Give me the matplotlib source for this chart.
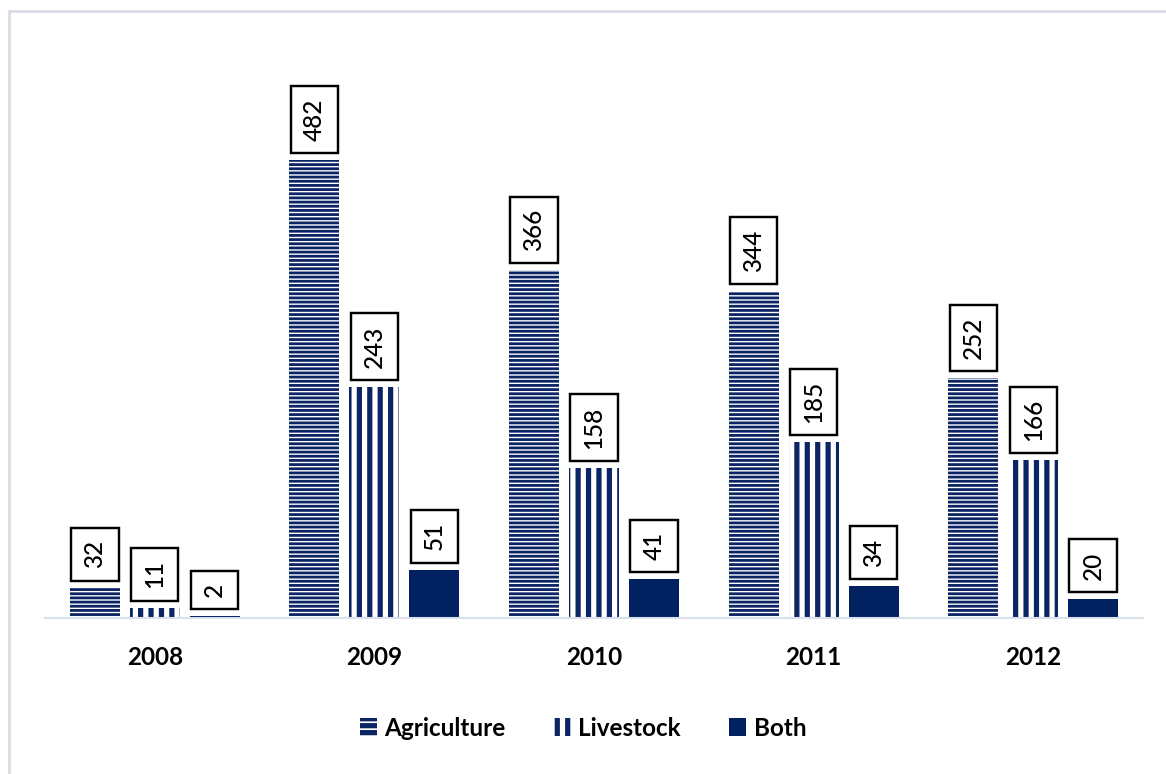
import numpy as np
import matplotlib.pyplot as plt
from matplotlib.patches import Rectangle, Patch

years = ['2008', '2009', '2010', '2011', '2012']
agriculture = [32, 482, 366, 344, 252]
livestock = [11, 243, 158, 185, 166]
both = [2, 51, 41, 34, 20]

navy = '#0B2463'
plt.rcParams['font.family'] = ['Lato', 'DejaVu Sans']

fig = plt.figure(figsize=(1166 / 125, 774 / 125), dpi=125)
ax = fig.add_axes([45 / 1166, (774 - 618) / 774, (1143 - 45) / 1166, (618 - 40) / 774])

# outer frame of the chart area
fig.add_artist(Rectangle((9 / 1166, -0.05), 1.2, 1.05 - 11 / 774, transform=fig.transFigure,
                         fill=False, edgecolor='#DADDE6', lw=1.6))

x = np.arange(len(years))
w = 0.228
off = 0.273

series = [
    ('Agriculture', agriculture, -off, '-----', 1.6),
    ('Livestock', livestock, 0, '||', 3.0),
    ('Both', both, off, None, 0),
]

for name, vals, dx, hatch, hlw in series:
    if hatch:
        plt.rcParams['hatch.linewidth'] = hlw
        bars = ax.bar(x + dx, vals, w, facecolor='white', edgecolor=navy, hatch=hatch,
                      linewidth=0)
        for b in bars:
            if hasattr(b, 'set_hatch_linewidth'):
                b.set_hatch_linewidth(hlw)
    else:
        bars = ax.bar(x + dx, vals, w, color='#002060', linewidth=0)
    for xi, v in zip(x + dx, vals):
        ax.annotate(str(v), xy=(xi, v), xytext=(0, 11), textcoords='offset points',
                    rotation=90, ha='center', va='bottom', fontsize=14, color='black',
                    fontweight='medium',
                    bbox=dict(boxstyle='square,pad=0.5', facecolor='white',
                              edgecolor='black', lw=1.4))

ax.set_xlim(-0.5, 4.5)
ax.set_ylim(0, 608)
ax.set_xticks(x)
ax.set_xticklabels(years, fontsize=14, fontweight='bold')
ax.tick_params(axis='x', length=0, pad=16)
ax.set_yticks([])
for s in ['left', 'right', 'top']:
    ax.spines[s].set_visible(False)
ax.spines['bottom'].set_color('#D9E1EC')
ax.spines['bottom'].set_linewidth(1.2)

# legend handles with sparser hatching so the stripes stay visible
h_agri = Patch(facecolor='white', edgecolor=navy, hatch='---', linewidth=0, label='Agriculture')
h_live = Patch(facecolor='white', edgecolor=navy, hatch='||', linewidth=0, label='Livestock')
h_both = Patch(facecolor='#002060', linewidth=0, label='Both')
for h, lw in [(h_agri, 1.6), (h_live, 3.0)]:
    if hasattr(h, 'set_hatch_linewidth'):
        h.set_hatch_linewidth(lw)
fig.legend(handles=[h_agri, h_live, h_both], loc='center',
           bbox_to_anchor=(0.5, (774 - 728) / 774), ncol=3, frameon=False,
           handlelength=0.7, handleheight=0.7, handletextpad=0.3, columnspacing=2.0,
           prop={'size': 14, 'weight': 'bold'})

fig.savefig('out.png', dpi=125)
